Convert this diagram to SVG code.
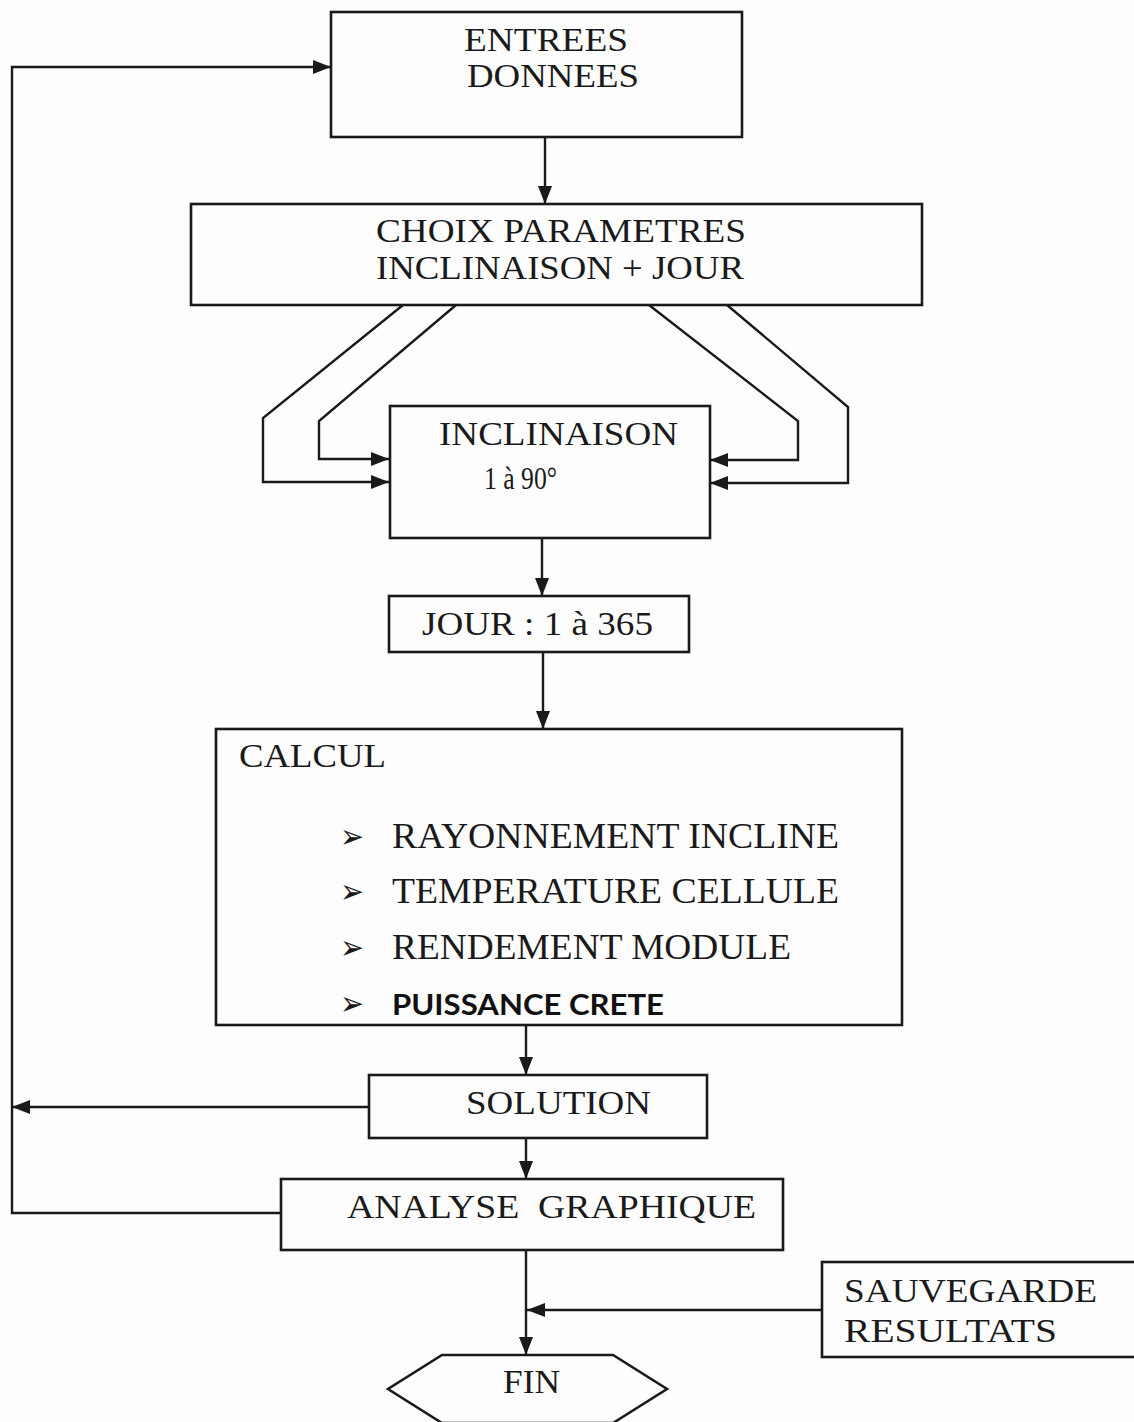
<svg xmlns="http://www.w3.org/2000/svg" width="1134" height="1422" viewBox="0 0 1134 1422">
<defs>
<style>
.box{fill:none;stroke:#1a1a1a;stroke-width:2.6}
.ln{fill:none;stroke:#1a1a1a;stroke-width:2.4}
.t{font-family:"Liberation Serif","Times New Roman",serif;font-size:34px;fill:#1a1a1a}
.tb{font-family:"Liberation Serif","Times New Roman",serif;font-size:35px;fill:#1a1a1a}
.s{font-family:Lato,"Noto Sans",sans-serif;font-size:29px;font-weight:bold;fill:#111}
.bul{font-family:"DejaVu Sans",sans-serif;font-size:34px;fill:#1a1a1a}
</style>
<marker id="ah" markerUnits="userSpaceOnUse" markerWidth="18" markerHeight="14" refX="18" refY="7" orient="auto">
<path d="M0,0 L18,7 L0,14 z" fill="#1a1a1a"/>
</marker>
</defs>
<rect width="1134" height="1422" fill="#fdfdfd"/>

<g id="connectors">
<path class="ln" d="M281,1213 H12 V67 H331" marker-end="url(#ah)"/>
<path class="ln" d="M369,1107 H12" marker-end="url(#ah)"/>
<path class="ln" d="M545,137 V204" marker-end="url(#ah)"/>
<path class="ln" d="M403,305 L263,418 V482 H389" marker-end="url(#ah)"/>
<path class="ln" d="M456,305 L319,421 V459 H389" marker-end="url(#ah)"/>
<path class="ln" d="M649,305 L798,421 V460 H710" marker-end="url(#ah)"/>
<path class="ln" d="M727,305 L848,407 V483 H710" marker-end="url(#ah)"/>
<path class="ln" d="M542,538 V596" marker-end="url(#ah)"/>
<path class="ln" d="M543,652 V729" marker-end="url(#ah)"/>
<path class="ln" d="M526,1025 V1075" marker-end="url(#ah)"/>
<path class="ln" d="M526,1138 V1179" marker-end="url(#ah)"/>
<path class="ln" d="M526,1250 V1355" marker-end="url(#ah)"/>
<path class="ln" d="M822,1310 H527" marker-end="url(#ah)"/>
</g>

<g id="entrees">
<rect class="box" x="331" y="12" width="411" height="125"/>
<text class="t" x="464" y="51" textLength="164" lengthAdjust="spacingAndGlyphs">ENTREES</text>
<text class="t" x="467" y="87" textLength="172" lengthAdjust="spacingAndGlyphs">DONNEES</text>
</g>

<g id="choix">
<rect class="box" x="191" y="204" width="731" height="101"/>
<text class="t" x="376" y="242" textLength="370" lengthAdjust="spacingAndGlyphs">CHOIX PARAMETRES</text>
<text class="t" x="376" y="279" textLength="368" lengthAdjust="spacingAndGlyphs">INCLINAISON + JOUR</text>
</g>

<g id="inclinaison">
<rect class="box" x="390" y="406" width="320" height="132"/>
<text class="t" x="439" y="445" textLength="239" lengthAdjust="spacingAndGlyphs">INCLINAISON</text>
<text class="t" x="484" y="489" textLength="73" lengthAdjust="spacingAndGlyphs" style="font-size:31px">1 à 90°</text>
</g>

<g id="jour">
<rect class="box" x="389" y="596" width="300" height="56"/>
<text class="t" x="422" y="635" textLength="231" lengthAdjust="spacingAndGlyphs">JOUR : 1 à 365</text>
</g>

<g id="calcul">
<rect class="box" x="216" y="729" width="686" height="296"/>
<text class="t" x="239" y="767" textLength="147" lengthAdjust="spacingAndGlyphs">CALCUL</text>
<text class="bul" x="340" y="848" textLength="24" lengthAdjust="spacingAndGlyphs">➢</text>
<text class="tb" x="392" y="848" textLength="447" lengthAdjust="spacingAndGlyphs">RAYONNEMENT INCLINE</text>
<text class="bul" x="340" y="903" textLength="24" lengthAdjust="spacingAndGlyphs">➢</text>
<text class="tb" x="392" y="903" textLength="447" lengthAdjust="spacingAndGlyphs">TEMPERATURE CELLULE</text>
<text class="bul" x="340" y="959" textLength="24" lengthAdjust="spacingAndGlyphs">➢</text>
<text class="tb" x="392" y="959" textLength="399" lengthAdjust="spacingAndGlyphs">RENDEMENT MODULE</text>
<text class="bul" x="340" y="1015" textLength="24" lengthAdjust="spacingAndGlyphs">➢</text>
<text class="s" x="392" y="1015" textLength="272" lengthAdjust="spacingAndGlyphs">PUISSANCE CRETE</text>
</g>

<g id="solution">
<rect class="box" x="369" y="1075" width="338" height="63"/>
<text class="t" x="466" y="1114" textLength="185" lengthAdjust="spacingAndGlyphs">SOLUTION</text>
</g>

<g id="analyse">
<rect class="box" x="281" y="1179" width="502" height="71"/>
<text class="t" x="347" y="1218" textLength="409" lengthAdjust="spacingAndGlyphs" style="white-space:pre">ANALYSE  GRAPHIQUE</text>
</g>

<g id="sauvegarde">
<rect class="box" x="822" y="1262" width="330" height="95"/>
<text class="t" x="844" y="1302" textLength="253" lengthAdjust="spacingAndGlyphs">SAUVEGARDE</text>
<text class="t" x="844" y="1342" textLength="213" lengthAdjust="spacingAndGlyphs">RESULTATS</text>
</g>

<g id="fin">
<polygon class="box" points="442,1355 613,1355 667,1389 613,1423 442,1423 388,1389"/>
<text class="t" x="503" y="1393" textLength="57" lengthAdjust="spacingAndGlyphs">FIN</text>
</g>
</svg>
